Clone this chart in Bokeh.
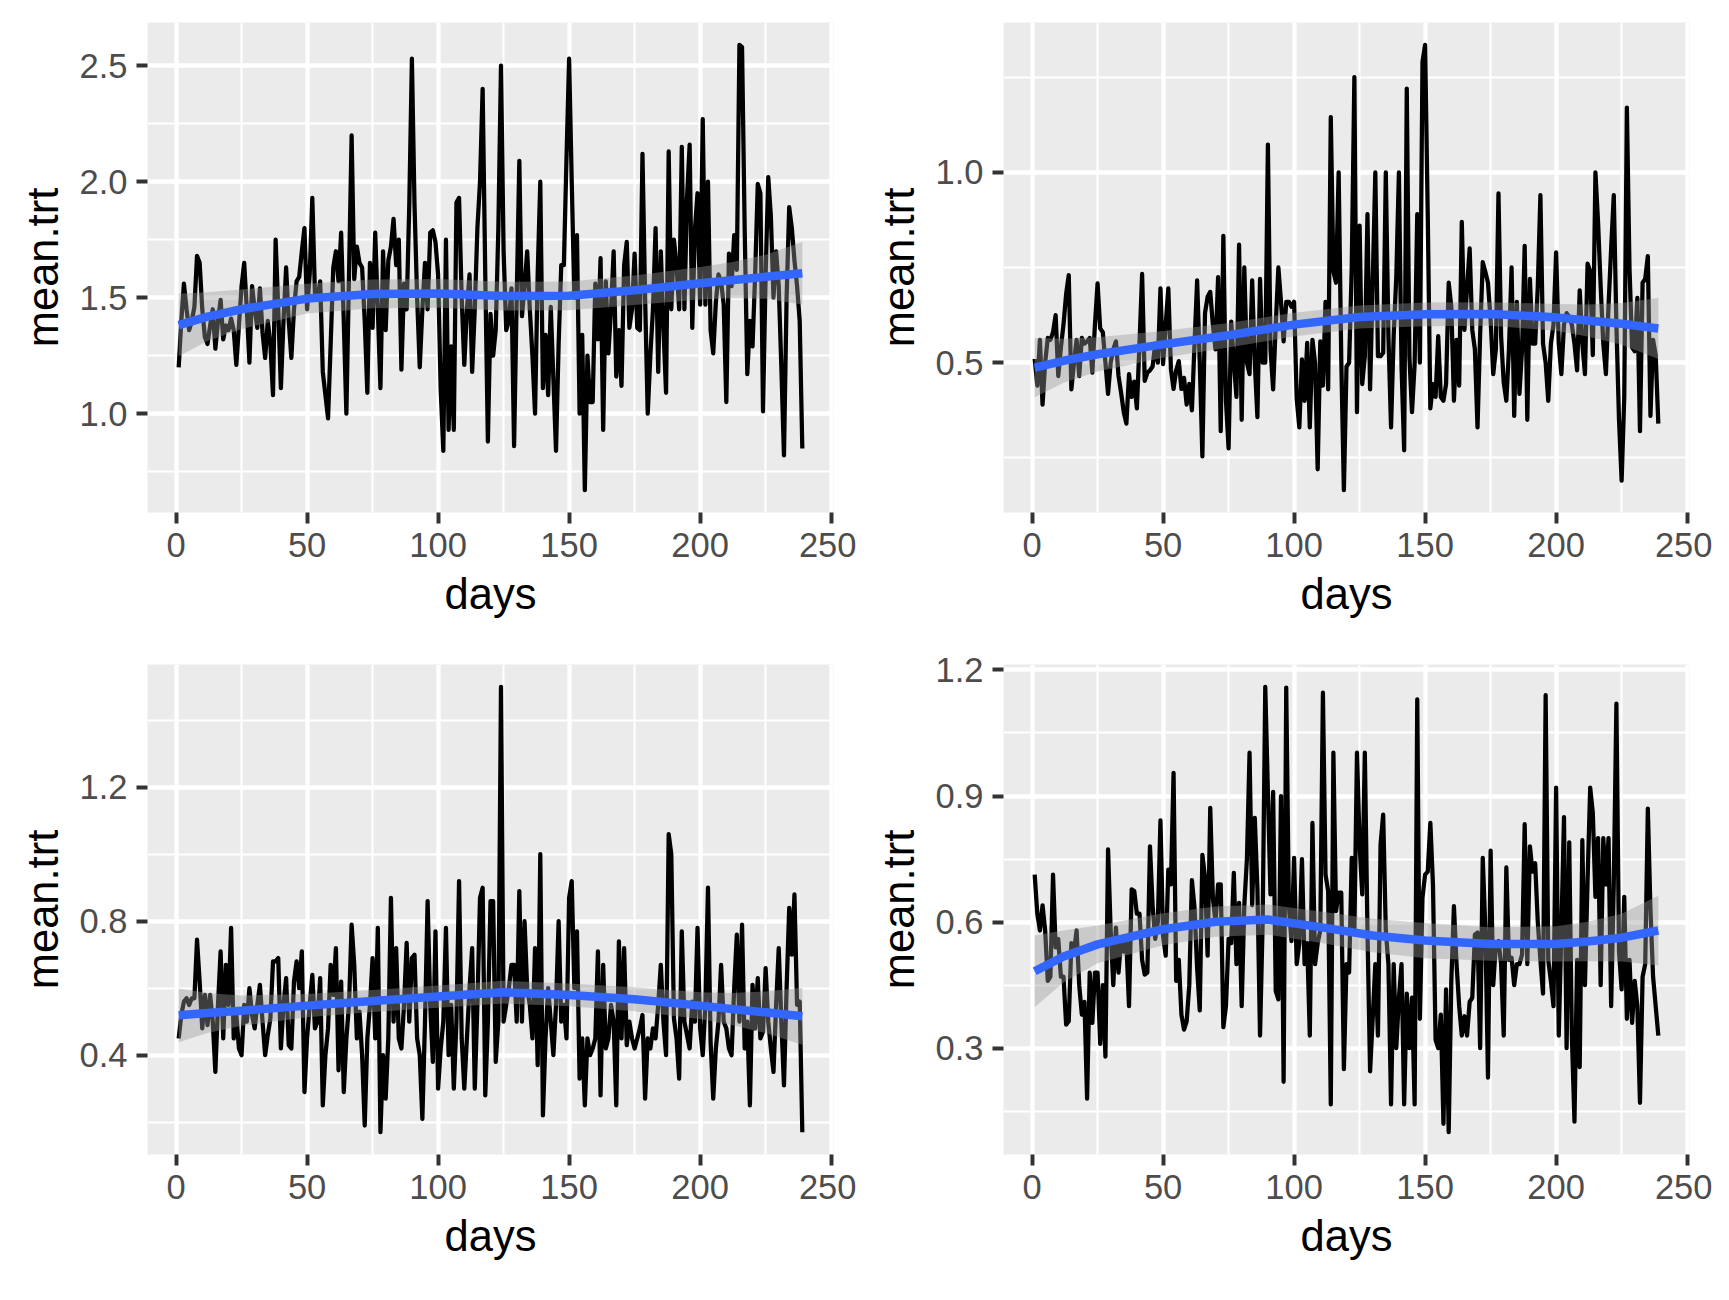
import numpy as np
from bokeh.plotting import figure
from bokeh.layouts import gridplot
from bokeh.models import FixedTicker, PrintfTickFormatter, Range1d
from bokeh.embed import file_html
from bokeh.resources import INLINE

# ---------------- data ----------------
days = list(range(1, 240))

mean_trt_a = [
    1.20, 1.40, 1.56, 1.45, 1.36, 1.40, 1.46, 1.68, 1.65, 1.45,
    1.33, 1.30, 1.38, 1.45, 1.28, 1.40, 1.49, 1.32, 1.38, 1.36,
    1.41, 1.36, 1.21, 1.38, 1.55, 1.65, 1.45, 1.22, 1.55, 1.45,
    1.37, 1.54, 1.35, 1.24, 1.40, 1.30, 1.08, 1.75, 1.45, 1.11,
    1.40, 1.63, 1.40, 1.24, 1.45, 1.57, 1.59, 1.70, 1.80, 1.45,
    1.60, 1.93, 1.52, 1.50, 1.57, 1.18, 1.08, 0.98, 1.30, 1.63,
    1.70, 1.57, 1.78, 1.40, 1.00, 1.60, 2.20, 1.58, 1.72, 1.65,
    1.63, 1.40, 1.09, 1.65, 1.37, 1.78, 1.45, 1.11, 1.70, 1.36,
    1.66, 1.72, 1.84, 1.64, 1.75, 1.19, 1.56, 1.45, 1.90, 2.53,
    1.90, 1.50, 1.20, 1.45, 1.65, 1.45, 1.78, 1.79, 1.74, 1.60,
    1.10, 0.84, 1.75, 0.93, 1.29, 0.93, 1.91, 1.93, 1.50, 1.21,
    1.45, 1.60, 1.18, 1.45, 1.80, 2.00, 2.40, 1.60, 0.88, 1.43,
    1.25, 1.36, 1.80, 2.50, 1.70, 1.36, 1.40, 1.54, 0.86, 1.50,
    2.09, 1.42, 1.55, 1.70, 1.45, 1.25, 1.00, 1.60, 2.00, 1.11,
    1.34, 1.08, 1.46, 1.15, 0.84, 1.30, 1.64, 1.64, 2.10, 2.53,
    2.00, 1.50, 1.77, 1.00, 1.34, 0.67, 1.25, 1.05, 1.05, 1.56,
    1.32, 1.67, 0.93, 1.57, 1.26, 1.45, 1.70, 1.16, 1.36, 1.12,
    1.64, 1.74, 1.37, 1.45, 1.69, 1.37, 1.36, 2.12, 1.50, 1.00,
    1.25, 1.45, 1.80, 1.18, 1.70, 1.37, 1.09, 2.13, 1.45, 1.75,
    1.64, 1.45, 2.15, 1.45, 1.93, 2.16, 1.37, 1.79, 1.95, 1.47,
    2.27, 1.47, 2.00, 1.36, 1.26, 1.48, 1.60, 1.57, 1.47, 1.05,
    1.69, 1.55, 1.77, 1.62, 2.59, 2.58, 1.80, 1.17, 1.40, 1.29,
    1.60, 1.99, 1.95, 1.01, 1.60, 2.02, 1.85, 1.50, 1.70, 1.55,
    1.20, 0.82, 1.50, 1.89, 1.80, 1.66, 1.55, 1.40, 0.85,
]

mean_trt_b = [
    0.51, 0.44, 0.56, 0.39, 0.50, 0.565, 0.56, 0.58, 0.625, 0.465,
    0.54, 0.60, 0.68, 0.73, 0.43, 0.50, 0.56, 0.465, 0.565, 0.55,
    0.556, 0.565, 0.474, 0.60, 0.708, 0.59, 0.58, 0.50, 0.418, 0.50,
    0.535, 0.556, 0.465, 0.42, 0.37, 0.34, 0.47, 0.41, 0.45, 0.38,
    0.55, 0.733, 0.452, 0.474, 0.48, 0.49, 0.55, 0.50, 0.695, 0.496,
    0.60, 0.695, 0.483, 0.431, 0.48, 0.504, 0.431, 0.46, 0.39, 0.444,
    0.375, 0.55, 0.716, 0.50, 0.254, 0.63, 0.673, 0.686, 0.60, 0.535,
    0.725, 0.32, 0.833, 0.40, 0.275, 0.608, 0.50, 0.41, 0.81, 0.35,
    0.75, 0.50, 0.47, 0.716, 0.50, 0.357, 0.72, 0.50, 0.50, 1.073,
    0.535, 0.43, 0.60, 0.75, 0.66, 0.556, 0.66, 0.66, 0.647, 0.66,
    0.405, 0.33, 0.509, 0.40, 0.552, 0.33, 0.56, 0.50, 0.22, 0.556,
    0.44, 0.66, 0.43, 1.145, 0.74, 0.71, 1.00, 0.51, 0.165, 0.49,
    0.50, 0.75, 1.25, 0.37, 0.86, 0.444, 0.517, 0.89, 0.43, 0.71,
    1.00, 0.517, 0.517, 0.526, 1.00, 0.57, 0.33, 0.57, 0.725, 1.00,
    0.49, 0.27, 1.22, 0.517, 0.37, 0.496, 0.89, 0.50, 1.29, 1.335,
    0.89, 0.38, 0.444, 0.41, 0.57, 0.41, 0.40, 0.444, 0.71, 0.647,
    0.40, 0.56, 0.44, 0.87, 0.586, 0.695, 0.80, 0.586, 0.535, 0.33,
    0.574, 0.764, 0.738, 0.71, 0.612, 0.47, 0.535, 0.945, 0.57, 0.448,
    0.40, 0.535, 0.75, 0.36, 0.66, 0.418, 0.535, 0.807, 0.35, 0.72,
    0.55, 0.55, 0.70, 0.94, 0.55, 0.50, 0.40, 0.55, 0.60, 0.79,
    0.55, 0.47, 0.60, 0.63, 0.62, 0.60, 0.55, 0.48, 0.69, 0.55,
    0.47, 0.76, 0.74, 0.52, 1.00, 0.87, 0.70, 0.55, 0.47, 0.65,
    0.80, 0.94, 0.60, 0.35, 0.19, 0.41, 1.17, 0.75, 0.54, 0.53,
    0.67, 0.32, 0.71, 0.72, 0.78, 0.36, 0.56, 0.52, 0.34,
]

mean_trt_c = [
    0.45, 0.52, 0.56, 0.57, 0.55, 0.57, 0.57, 0.745, 0.62, 0.48,
    0.58, 0.49, 0.58, 0.50, 0.35, 0.55, 0.71, 0.45, 0.67, 0.55,
    0.78, 0.45, 0.52, 0.42, 0.40, 0.55, 0.50, 0.60, 0.52, 0.48,
    0.55, 0.61, 0.50, 0.40, 0.46, 0.51, 0.68, 0.68, 0.69, 0.42,
    0.55, 0.63, 0.43, 0.42, 0.62, 0.68, 0.60, 0.71, 0.29, 0.45,
    0.55, 0.64, 0.48, 0.50, 0.63, 0.25, 0.40, 0.48, 0.67, 0.58,
    0.72, 0.355, 0.62, 0.29, 0.45, 0.55, 0.79, 0.67, 0.45, 0.53,
    0.40, 0.19, 0.45, 0.55, 0.69, 0.45, 0.78, 0.17, 0.40, 0.27,
    0.45, 0.87, 0.50, 0.72, 0.45, 0.42, 0.55, 0.735, 0.50, 0.69,
    0.70, 0.45, 0.40, 0.21, 0.50, 0.86, 0.55, 0.38, 0.77, 0.30,
    0.42, 0.50, 0.78, 0.40, 0.55, 0.30, 0.50, 0.92, 0.45, 0.30,
    0.45, 0.60, 0.72, 0.30, 0.55, 0.87, 0.90, 0.28, 0.50, 0.86,
    0.86, 0.38, 0.50, 1.50, 0.50, 0.55, 0.60, 0.67, 0.67, 0.50,
    0.89, 0.50, 0.80, 0.60, 0.55, 0.45, 0.72, 0.37, 1.00, 0.22,
    0.45, 0.60, 0.50, 0.40, 0.55, 0.80, 0.50, 0.55, 0.45, 0.87,
    0.92, 0.60, 0.77, 0.33, 0.45, 0.25, 0.45, 0.40, 0.42, 0.45,
    0.71, 0.28, 0.67, 0.42, 0.45, 0.55, 0.50, 0.25, 0.74, 0.45,
    0.72, 0.43, 0.50, 0.45, 0.42, 0.45, 0.48, 0.52, 0.27, 0.45,
    0.42, 0.48, 0.45, 0.55, 0.67, 0.50, 0.40, 1.06, 1.00, 0.51,
    0.45, 0.33, 0.77, 0.50, 0.46, 0.42, 0.56, 0.50, 0.78, 0.48,
    0.40, 0.55, 0.90, 0.44, 0.27, 0.42, 0.50, 0.67, 0.50, 0.48,
    0.42, 0.40, 0.60, 0.76, 0.50, 0.79, 0.42, 0.50, 0.25, 0.61,
    0.48, 0.63, 0.45, 0.47, 0.66, 0.50, 0.42, 0.35, 0.55, 0.72,
    0.50, 0.31, 0.60, 0.84, 0.70, 0.88, 0.55, 0.56, 0.17,
]

mean_trt_d = [
    0.713, 0.62, 0.58, 0.64, 0.58, 0.46, 0.47, 0.713, 0.54, 0.56,
    0.47, 0.47, 0.356, 0.364, 0.55, 0.53, 0.58, 0.45, 0.38, 0.41,
    0.18, 0.48, 0.36, 0.48, 0.48, 0.31, 0.45, 0.28, 0.773, 0.58,
    0.45, 0.587, 0.48, 0.56, 0.53, 0.55, 0.40, 0.678, 0.674, 0.62,
    0.62, 0.51, 0.475, 0.48, 0.78, 0.64, 0.56, 0.60, 0.842, 0.567,
    0.52, 0.725, 0.69, 0.955, 0.46, 0.51, 0.38, 0.344, 0.364, 0.45,
    0.70, 0.634, 0.49, 0.39, 0.76, 0.706, 0.52, 0.872, 0.658, 0.60,
    0.69, 0.69, 0.35, 0.40, 0.56, 0.55, 0.717, 0.50, 0.646, 0.40,
    0.64, 0.75, 1.003, 0.64, 0.848, 0.68, 0.33, 0.60, 1.16, 0.91,
    0.666, 0.91, 0.436, 0.416, 0.90, 0.22, 1.158, 0.64, 0.555, 0.753,
    0.50, 0.55, 0.75, 0.50, 0.55, 0.33, 0.836, 0.50, 0.55, 0.58,
    1.146, 0.713, 0.674, 0.166, 1.003, 0.626, 0.67, 0.67, 0.25, 0.50,
    0.48, 0.753, 0.58, 1.003, 0.785, 0.666, 1.003, 0.58, 0.245, 0.37,
    0.50, 0.33, 0.785, 0.856, 0.58, 0.50, 0.166, 0.50, 0.30, 0.42,
    0.50, 0.166, 0.43, 0.30, 0.42, 0.166, 1.13, 0.37, 0.658, 0.713,
    0.72, 0.836, 0.69, 0.32, 0.30, 0.38, 0.12, 0.44, 0.10, 0.46,
    0.638, 0.50, 0.40, 0.33, 0.376, 0.33, 0.41, 0.42, 0.57, 0.575,
    0.30, 0.753, 0.58, 0.23, 0.77, 0.45, 0.547, 0.555, 0.50, 0.33,
    0.73, 0.51, 0.515, 0.45, 0.50, 0.50, 0.523, 0.833, 0.50, 0.78,
    0.72, 0.74, 0.60, 0.51, 0.43, 1.14, 0.51, 0.46, 0.40, 0.92,
    0.33, 0.58, 0.85, 0.30, 0.79, 0.33, 0.125, 0.51, 0.255, 0.795,
    0.45, 0.70, 0.92, 0.86, 0.66, 0.80, 0.45, 0.80, 0.69, 0.80,
    0.40, 0.69, 1.12, 0.53, 0.44, 0.66, 0.37, 0.51, 0.36, 0.46,
    0.40, 0.17, 0.47, 0.50, 0.87, 0.63, 0.47, 0.40, 0.33,
]

# smoothed trend (blue line) and its confidence half-width
smooth_days = [1, 12, 25, 50, 75, 100, 125, 150, 175, 200, 212, 225, 239]
smooth_fit_a = [1.382, 1.418, 1.450, 1.496, 1.516, 1.518, 1.507, 1.508, 1.532, 1.562, 1.575, 1.590, 1.605]
smooth_half_a = [0.135, 0.105, 0.085, 0.064, 0.062, 0.062, 0.062, 0.062, 0.064, 0.070, 0.078, 0.095, 0.135]
smooth_fit_b = [0.487, 0.505, 0.522, 0.548, 0.572, 0.600, 0.620, 0.627, 0.628, 0.619, 0.611, 0.602, 0.590]
smooth_half_b = [0.078, 0.058, 0.045, 0.035, 0.032, 0.031, 0.030, 0.031, 0.031, 0.035, 0.042, 0.055, 0.080]
smooth_fit_c = [0.519, 0.526, 0.533, 0.548, 0.562, 0.575, 0.588, 0.580, 0.567, 0.548, 0.538, 0.528, 0.516]
smooth_half_c = [0.080, 0.060, 0.045, 0.035, 0.033, 0.033, 0.034, 0.034, 0.036, 0.040, 0.048, 0.062, 0.085]
smooth_days_d = [1, 12, 25, 50, 70, 90, 110, 130, 150, 175, 200, 212, 225, 239]
smooth_fit_d = [0.483, 0.518, 0.547, 0.583, 0.601, 0.606, 0.588, 0.568, 0.556, 0.548, 0.548, 0.554, 0.563, 0.580]
smooth_half_d = [0.085, 0.062, 0.045, 0.038, 0.036, 0.036, 0.037, 0.040, 0.042, 0.040, 0.042, 0.047, 0.057, 0.083]

x_ticks = [0, 50, 100, 150, 200, 250]
x_minor = [25, 75, 125, 175, 225]
y_ticks_a = [1.0, 1.5, 2.0, 2.5]
y_minor_a = [0.75, 1.25, 1.75, 2.25]
y_ticks_b = [0.5, 1.0]
y_minor_b = [0.25, 0.75, 1.25]
y_ticks_c = [0.4, 0.8, 1.2]
y_minor_c = [0.2, 0.6, 1.0, 1.4]
y_ticks_d = [0.3, 0.6, 0.9, 1.2]
y_minor_d = [0.15, 0.45, 0.75, 1.05]

# ---------------- styling ----------------
S = 0.99
FONT = "Liberation Sans"
W, H = 856, 642


def make_panel(vals, sx, sfit, shalf, yt, ym):
    fit = np.asarray(sfit, float)
    half = np.asarray(shalf, float)
    lo, hi = fit - half, fit + half
    allv = list(vals) + list(lo) + list(hi)
    ymin, ymax = min(allv), max(allv)
    ypad = (ymax - ymin) * 0.05
    xmin, xmax = min(days), max(days)
    xpad = (xmax - xmin) * 0.05

    p = figure(width=W, height=H, output_backend="svg", toolbar_location=None,
               x_range=Range1d(xmin - xpad, xmax + xpad),
               y_range=Range1d(ymin - ypad, ymax + ypad),
               min_border_left=147, min_border_right=23,
               min_border_top=22, min_border_bottom=130)
    p.background_fill_color = "#EBEBEB"
    p.border_fill_color = "white"
    p.outline_line_color = None

    p.xaxis.ticker = FixedTicker(ticks=x_ticks, minor_ticks=x_minor)
    p.yaxis.ticker = FixedTicker(ticks=yt, minor_ticks=ym)
    p.yaxis.formatter = PrintfTickFormatter(format="%.1f")

    for g in (p.xgrid, p.ygrid):
        g.grid_line_color = "white"
        g.grid_line_width = 4.3 * S
        g.minor_grid_line_color = "white"
        g.minor_grid_line_width = 2.15 * S

    for ax in (p.xaxis, p.yaxis):
        ax.axis_line_color = None
        ax.minor_tick_line_color = None
        ax.major_tick_in = 0
        ax.major_tick_out = 11
        ax.major_tick_line_color = "#333333"
        ax.major_tick_line_width = 4.0 * S
        ax.major_label_text_font = FONT
        ax.major_label_text_font_size = "34.5px"
        ax.major_label_text_color = "#4D4D4D"
        ax.major_label_standoff = 9
        ax.axis_label_text_font = FONT
        ax.axis_label_text_font_size = "43.5px"
        ax.axis_label_text_font_style = "normal"
        ax.axis_label_text_color = "black"
        ax.axis_label_standoff = 10

    p.xaxis.axis_label = "days"
    p.yaxis.axis_label = "mean.trt"

    p.line(days, vals, line_color="black", line_width=4.3 * S, line_join="round")
    p.varea(x=sx, y1=lo, y2=hi, fill_color="#999999", fill_alpha=0.4)
    p.line(sx, fit, line_color="#3366FF", line_width=8.6 * S, line_join="round")
    return p


p1 = make_panel(mean_trt_a, smooth_days, smooth_fit_a, smooth_half_a, y_ticks_a, y_minor_a)
p2 = make_panel(mean_trt_b, smooth_days, smooth_fit_b, smooth_half_b, y_ticks_b, y_minor_b)
p3 = make_panel(mean_trt_c, smooth_days, smooth_fit_c, smooth_half_c, y_ticks_c, y_minor_c)
p4 = make_panel(mean_trt_d, smooth_days_d, smooth_fit_d, smooth_half_d, y_ticks_d, y_minor_d)

layout = gridplot([[p1, p2], [p3, p4]], toolbar_location=None)

open("out.html", "w").write(file_html(layout, INLINE))
